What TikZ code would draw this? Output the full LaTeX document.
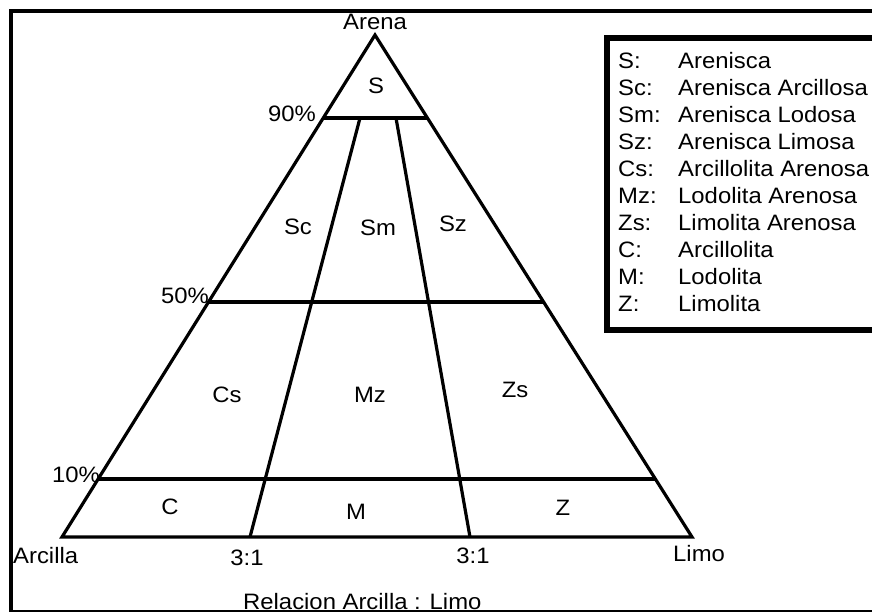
\documentclass[tikz,border=0pt]{standalone}
\usepackage{fontspec}
\setmainfont{Liberation Sans}[FakeStretch=1.07]
\usetikzlibrary{calc}
\newcommand{\lbl}{\fontsize{22.3}{26}\selectfont}
\begin{document}
\begin{tikzpicture}[x=1pt,y=-1pt,
  tri/.style={line width=3.2pt, line join=miter},
  lab/.style={inner sep=0pt, anchor=base, font=\lbl},
  leg/.style={inner sep=0pt, anchor=base west, font=\lbl}]
\useasboundingbox (0,0) rectangle (872,612);
\fill[white] (0,0) rectangle (872,612);
% outer frame
\draw[line width=4pt] (11,614) -- (11,11) -- (874,11);
\draw[line width=2pt] (11,611) -- (874,611);
% legend box
\draw[line width=6pt] (606.5,38) rectangle (885,329.5);
% triangle
\coordinate (A) at (375,35);
\coordinate (C) at (62,537);
\coordinate (L) at (692,537);
\coordinate (n90l) at ($(A)!0.1653!(C)$);
\coordinate (n90r) at ($(A)!0.1653!(L)$);
\coordinate (n50l) at ($(A)!0.5319!(C)$);
\coordinate (n50r) at ($(A)!0.5319!(L)$);
\coordinate (n10l) at ($(A)!0.8845!(C)$);
\coordinate (n10r) at ($(A)!0.8845!(L)$);
\coordinate (v1t) at (360,118);
\coordinate (v1b) at (250,537);
\coordinate (v2t) at (396,118);
\coordinate (v2b) at (470,537);
\draw[tri] (C) -- (A) -- (L) -- cycle;
\draw[tri] (n90l) -- (n90r);
\draw[tri] (n50l) -- (n50r);
\draw[tri] (n10l) -- (n10r);
\draw[tri] (v1t) -- (v1b);
\draw[tri] (v2t) -- (v2b);
% corner and axis labels
\node[lab] (arena) at (375,29.5) {Arena};
\node[lab, anchor=base west] (p90) at (268,122) {90\%};
\node[lab, anchor=base west] (p50) at (161,303) {50\%};
\node[lab, anchor=base west] (p10) at (52,482) {10\%};
\node[lab, anchor=base west] (arcilla) at (13,563) {Arcilla};
\node[lab] (r1) at (247,565) {3:1};
\node[lab] (r2) at (473,563) {3:1};
\node[lab, anchor=base west] (limo) at (673,561) {Limo};
\node[lab, anchor=base west] (relacion) at (243,609) {Relacion Arcilla : Limo};
% region labels
\node[lab] (rS) at (376,94) {S};
\node[lab] (rSc) at (298,235) {Sc};
\node[lab] (rSm) at (378,236) {Sm};
\node[lab] (rSz) at (453,232) {Sz};
\node[lab] (rCs) at (227,402) {Cs};
\node[lab] (rMz) at (370,402) {Mz};
\node[lab] (rZs) at (515,397) {Zs};
\node[lab] (rC) at (170,514) {C};
\node[lab] (rM) at (356,519) {M};
\node[lab] (rZ) at (563,515) {Z};
% legend
\foreach \k/\d [count=\i from 0] in {S:/Arenisca, Sc:/Arenisca Arcillosa, Sm:/Arenisca Lodosa, Sz:/Arenisca Limosa, Cs:/Arcillolita Arenosa, Mz:/Lodolita Arenosa, Zs:/Limolita Arenosa, C:/Arcillolita, M:/Lodolita, Z:/Limolita}{
  \node[leg] (lk\i) at (618,69+26.9*\i) {\k};
  \node[leg] (ld\i) at (678,69+26.9*\i) {\d};
}
\end{tikzpicture}
\end{document}
